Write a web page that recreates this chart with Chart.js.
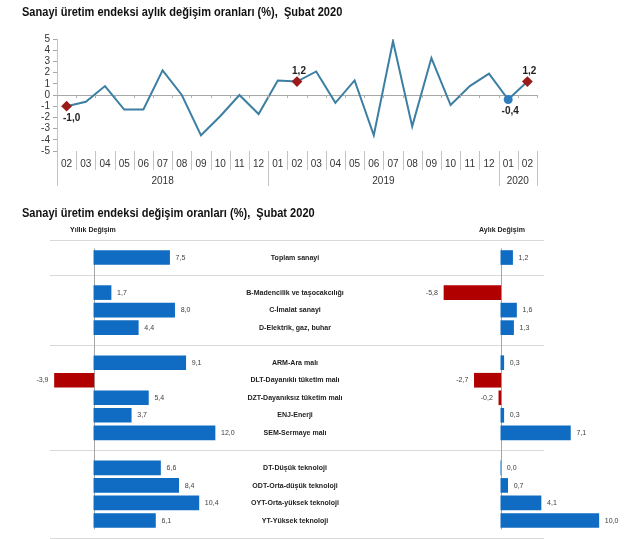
<!DOCTYPE html>
<html lang="tr">
<head>
<meta charset="UTF-8" />
<title>Sanayi üretim endeksi değişim oranları</title>
<script src="https://cdn.jsdelivr.net/npm/chart.js"></script>
<style>
  body { margin: 0; background: #fff; }
  #sayfa { position: relative; width: 640px; height: 539px; overflow: hidden; }
  .baslik {
    position: absolute; left: 22px; font: bold 12px Arial, "Liberation Sans", sans-serif;
    color: #111; white-space: nowrap; transform: scaleX(0.92); transform-origin: left top;
  }
  canvas { position: absolute; left: 0; }
</style>
</head>
<body>
<div id="sayfa">
  <canvas id="aylikGrafik" width="640" height="200" style="top:0"></canvas>
  <canvas id="sektorGrafik" width="640" height="339" style="top:200px"></canvas>
  <div class="baslik" style="top:5px">Sanayi üretim endeksi aylık değişim oranları (%),&nbsp; Şubat 2020</div>
  <div class="baslik" style="top:206px">Sanayi üretim endeksi değişim oranları (%),&nbsp; Şubat 2020</div>
</div>

<script>
  // --- ust grafik: aylik degisim serisi ---
  const aylar = ['02', '03', '04', '05', '06', '07', '08', '09', '10', '11', '12',
    '01', '02', '03', '04', '05', '06', '07', '08', '09', '10', '11', '12',
    '01', '02'];
  const yillar = ['2018', '2019', '2020'];
  const yilAySayisi = [11, 12, 2];
  const aylikDegisim = [-1.0, -0.6, 0.8, -1.3, -1.3, 2.2, 0.0, -3.6, -1.9, 0.0, -1.7,
    1.3, 1.2, 2.1, -0.7, 1.3, -3.6, 4.8, -2.8, 3.3, -0.9, 0.8, 1.9,
    -0.4, 1.2];
  const subatNoktalari = [0, 12, 24];
  const sonAyNoktasi = 23;

  // --- alt grafik: sektorler ---
  const sektorler = [
    'Toplam sanayi',
    'B-Madencilik ve taşocakcılığı', 'C-İmalat sanayi', 'D-Elektrik, gaz, buhar',
    'ARM-Ara malı', 'DLT-Dayanıklı tüketim malı', 'DZT-Dayanıksız tüketim malı', 'ENJ-Enerji', 'SEM-Sermaye malı',
    'DT-Düşük teknoloji', 'ODT-Orta-düşük teknoloji', 'OYT-Orta-yüksek teknoloji', 'YT-Yüksek teknoloji'
  ];
  const grupBoyutlari = [1, 3, 5, 4];
  const yillikDegisim = [7.5, 1.7, 8.0, 4.4, 9.1, -3.9, 5.4, 3.7, 12.0, 6.6, 8.4, 10.4, 6.1];
  const aylikSektor = [1.2, -5.8, 1.6, 1.3, 0.3, -2.7, -0.2, 0.3, 7.1, 0.0, 0.7, 4.1, 10.0];

  const MAVI = '#0f6cc2';
  const KIRMIZI = '#b00000';

  function virgul(v) {
    return v.toFixed(1).replace('.', ',');
  }

  // dar yazi: yatayda biraz sikistirilmis metin
  function darYaz(ctx, metin, x, y, hiza) {
    const k = 0.88;
    ctx.save();
    ctx.translate(x, y);
    ctx.scale(k, 1);
    ctx.textAlign = hiza;
    ctx.fillText(metin, 0, 0);
    ctx.restore();
  }

  // ---------- ust grafik ----------
  const noktaYaricap = aylikDegisim.map((_, i) => subatNoktalari.includes(i) ? 4 : (i === sonAyNoktasi ? 3.5 : 0));
  const noktaStil = aylikDegisim.map((_, i) => subatNoktalari.includes(i) ? 'rectRot' : 'circle');
  const noktaRenk = aylikDegisim.map((_, i) => subatNoktalari.includes(i) ? '#9b1b1b' : '#2f7fc0');

  const eksenCizgileri = {
    id: 'eksenCizgileri',
    afterDraw(chart) {
      const { ctx, chartArea, scales: { x, y } } = chart;
      const alt = chartArea.bottom;
      const sinirlar = [];
      for (let i = 0; i <= aylar.length; i++) {
        if (i === 0) sinirlar.push(chartArea.left);
        else if (i === aylar.length) sinirlar.push(chartArea.right);
        else sinirlar.push((x.getPixelForValue(i - 1) + x.getPixelForValue(i)) / 2);
      }
      const yilSinirlari = [0];
      yilAySayisi.reduce((t, n) => { yilSinirlari.push(t + n); return t + n; }, 0);

      ctx.save();
      ctx.lineWidth = 1;
      ctx.strokeStyle = '#c4c4c4';
      sinirlar.forEach((px, i) => {
        const uzun = yilSinirlari.includes(i);
        ctx.beginPath();
        ctx.moveTo(Math.round(px) + 0.5, alt);
        ctx.lineTo(Math.round(px) + 0.5, uzun ? alt + 35 : alt + 19);
        ctx.stroke();
      });

      // sifir cizgisi uzerindeki kucuk isaretler
      const y0 = y.getPixelForValue(0);
      ctx.strokeStyle = '#b0b0b0';
      sinirlar.forEach(px => {
        ctx.beginPath();
        ctx.moveTo(Math.round(px) + 0.5, y0);
        ctx.lineTo(Math.round(px) + 0.5, y0 + 3);
        ctx.stroke();
      });

      // yil etiketleri
      ctx.fillStyle = '#333';
      ctx.font = '10px Arial, sans-serif';
      ctx.textAlign = 'center';
      ctx.textBaseline = 'middle';
      yillar.forEach((yil, k) => {
        const orta = (sinirlar[yilSinirlari[k]] + sinirlar[yilSinirlari[k + 1]]) / 2;
        ctx.fillText(yil, orta, alt + 30);
      });

      // nokta etiketleri
      ctx.font = 'bold 10px Arial, sans-serif';
      ctx.fillStyle = '#222';
      const meta = chart.getDatasetMeta(0);
      [...subatNoktalari, sonAyNoktasi].forEach(i => {
        const p = meta.data[i];
        const v = aylikDegisim[i];
        const dy = v < 0 ? 12 : -10;
        ctx.fillText(virgul(v), p.x + (i === 0 ? 5 : 2), p.y + dy);
      });
      ctx.restore();
    }
  };

  new Chart(document.getElementById('aylikGrafik'), {
    type: 'line',
    data: {
      labels: aylar,
      datasets: [{
        data: aylikDegisim,
        borderColor: '#3c7fa3',
        borderWidth: 2,
        tension: 0,
        pointRadius: noktaYaricap,
        pointHoverRadius: noktaYaricap,
        pointStyle: noktaStil,
        pointBackgroundColor: noktaRenk,
        pointBorderColor: noktaRenk
      }]
    },
    options: {
      responsive: false,
      animation: false,
      events: [],
      layout: { padding: { top: 39, right: 103, bottom: 0, left: 0 } },
      plugins: { legend: { display: false }, tooltip: { enabled: false } },
      scales: {
        x: {
          offset: true,
          grid: { display: false, drawTicks: false },
          border: { display: false },
          ticks: { color: '#333', font: { size: 10, family: 'Arial' }, padding: 7, maxRotation: 0, autoSkip: false },
          afterFit(scale) { scale.height = 49; }
        },
        y: {
          min: -5, max: 5,
          ticks: { stepSize: 1, autoSkip: false, color: '#333', font: { size: 10, family: 'Arial' }, padding: 3 },
          grid: {
            color: c => c.tick && c.tick.value === 0 ? '#a8a8a8' : 'rgba(0,0,0,0)',
            tickColor: '#a8a8a8',
            tickLength: 4
          },
          border: { display: true, color: '#c4c4c4' },
          afterFit(scale) { scale.width = 57; }
        }
      }
    },
    plugins: [eksenCizgileri]
  });

  // ---------- alt grafik ----------
  const etiketler = [''];
  const yillikVeri = [null];
  const aylikVeri = [null];
  const bosSatirlar = [0];
  let sira = 0;
  grupBoyutlari.forEach(n => {
    for (let k = 0; k < n; k++) {
      etiketler.push(sektorler[sira]);
      yillikVeri.push(yillikDegisim[sira]);
      aylikVeri.push(aylikSektor[sira]);
      sira++;
    }
    bosSatirlar.push(etiketler.length);
    etiketler.push('');
    yillikVeri.push(null);
    aylikVeri.push(null);
  });

  const renk = c => (c.raw < 0 ? KIRMIZI : MAVI);

  const sektorCizim = {
    id: 'sektorCizim',
    beforeDatasetsDraw(chart) {
      const { ctx, scales: { y, xSol, xSag } } = chart;
      ctx.save();
      ctx.lineWidth = 1;
      ctx.strokeStyle = '#d9d9d9';
      bosSatirlar.forEach(i => {
        const py = Math.round(y.getPixelForValue(i)) + 0.5;
        ctx.beginPath();
        ctx.moveTo(50, py);
        ctx.lineTo(544, py);
        ctx.stroke();
      });
      ctx.strokeStyle = '#a6a6a6';
      const ust = y.getPixelForValue(1) - 9;
      const alt = y.getPixelForValue(etiketler.length - 2) + 9;
      [xSol, xSag].forEach(s => {
        const px = Math.round(s.getPixelForValue(0)) + 0.5;
        ctx.beginPath();
        ctx.moveTo(px, ust);
        ctx.lineTo(px, alt);
        ctx.stroke();
      });
      ctx.restore();
    },
    afterDatasetsDraw(chart) {
      const { ctx, scales: { y } } = chart;
      ctx.save();
      ctx.textBaseline = 'middle';

      // basliklar
      ctx.font = 'bold 8px Arial, sans-serif';
      ctx.fillStyle = '#222';
      darYaz(ctx, 'Yıllık Değişim', 70, 30, 'left');
      darYaz(ctx, 'Aylık Değişim', 479, 30, 'left');

      // kategori adlari
      etiketler.forEach((ad, i) => {
        if (ad) darYaz(ctx, ad, 295, y.getPixelForValue(i), 'center');
      });

      // deger etiketleri
      ctx.font = '8px Arial, sans-serif';
      ctx.fillStyle = '#404040';
      chart.data.datasets.forEach((ds, d) => {
        chart.getDatasetMeta(d).data.forEach((el, i) => {
          const v = ds.data[i];
          if (v === null || v === undefined) return;
          if (v < 0) darYaz(ctx, virgul(v), el.x - 6, el.y, 'right');
          else darYaz(ctx, virgul(v), el.x + 6, el.y, 'left');
        });
      });
      ctx.restore();
    }
  };

  new Chart(document.getElementById('sektorGrafik'), {
    type: 'bar',
    data: {
      labels: etiketler,
      datasets: [
        { label: 'Yıllık Değişim', data: yillikVeri, xAxisID: 'xSol', grouped: false, barThickness: 14, backgroundColor: renk },
        { label: 'Aylık Değişim', data: aylikVeri, xAxisID: 'xSag', grouped: false, barThickness: 14, backgroundColor: renk }
      ]
    },
    options: {
      indexAxis: 'y',
      responsive: false,
      animation: false,
      events: [],
      layout: { padding: { top: 40, right: 0, bottom: 1, left: 0 } },
      plugins: { legend: { display: false }, tooltip: { enabled: false } },
      scales: {
        y: { type: 'category', offset: false, display: false },
        xSol: { axis: 'x', type: 'linear', min: -9.3, max: 54.1, display: false },
        xSag: { axis: 'x', type: 'linear', min: -51.1, max: 14.2, display: false }
      }
    },
    plugins: [sektorCizim]
  });
</script>
</body>
</html>
